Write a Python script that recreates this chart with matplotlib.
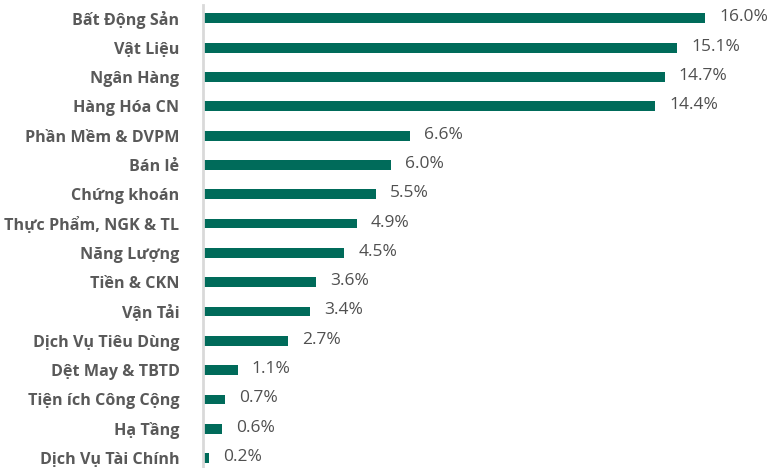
import matplotlib
matplotlib.use("Agg")
import matplotlib.pyplot as plt

categories = ["Bất Động Sản", "Vật Liệu", "Ngân Hàng", "Hàng Hóa CN", "Phần Mềm & DVPM",
              "Bán lẻ", "Chứng khoán", "Thực Phẩm, NGK & TL", "Năng Lượng", "Tiền & CKN",
              "Vận Tải", "Dịch Vụ Tiêu Dùng", "Dệt May & TBTD", "Tiện ích Công Cộng",
              "Hạ Tầng", "Dịch Vụ Tài Chính"]
values = [16.0, 15.1, 14.7, 14.4, 6.6, 6.0, 5.5, 4.9, 4.5, 3.6, 3.4, 2.7, 1.1, 0.7, 0.6, 0.2]
value_labels = [f"{v:.1f}%" for v in values]

plt.rcParams['font.family'] = ['Open Sans', 'DejaVu Sans']

W, H = 768, 468
fig = plt.figure(figsize=(W / 100, H / 100), dpi=100)
left_px = 203
top_px = 5
spacing = 29.33
ytop, ybot = -0.45, 15.45
height_px = (ybot - ytop) * spacing
bottom_px = H - top_px - height_px
ax = fig.add_axes([left_px / W, bottom_px / H, (W - left_px) / W, height_px / H])

pos = list(range(len(categories)))
bar_color = "#006B5A"
ax.barh(pos, values, height=0.34, color=bar_color)
ax.set_ylim(ybot, ytop)
ax.set_xlim(0, (W - left_px) / 31.4)

for p, v, lab in zip(pos, values, value_labels):
    ax.annotate(lab, (v, p), xytext=(14, 1), textcoords="offset pixels",
                ha="left", va="center", fontsize=12.5, color="#505050")

ax.set_yticks(pos)
ax.set_yticklabels(categories, fontsize=11.6, fontweight="bold", color="#595959")
ax.tick_params(axis="y", length=0, pad=17)
ax.set_xticks([])
for s in ["top", "right", "bottom"]:
    ax.spines[s].set_visible(False)
ax.spines["left"].set_color("#d9d9d9")
ax.spines["left"].set_linewidth(2)

fig.savefig("out.png", dpi=100)
